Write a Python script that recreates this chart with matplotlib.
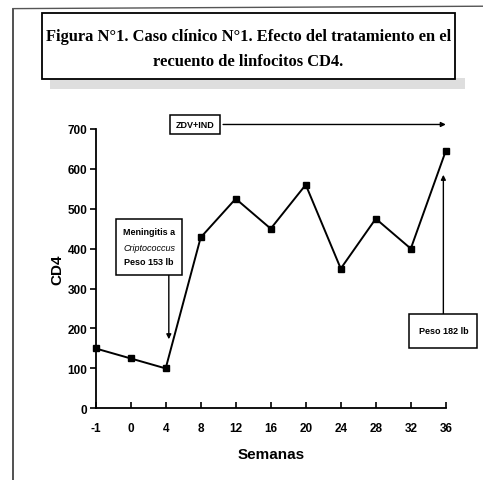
import matplotlib
matplotlib.use("Agg")
import matplotlib.pyplot as plt
from matplotlib.patches import Rectangle
from matplotlib.lines import Line2D

# data
semanas = ["-1", "0", "4", "8", "12", "16", "20", "24", "28", "32", "36"]
cd4 = [150, 125, 100, 428, 525, 450, 560, 350, 475, 400, 645]

titulo = "Figura N\u00b01. Caso cl\u00ednico N\u00b01. Efecto del tratamiento en el\nrecuento de linfocitos CD4."
narrow = ["Liberation Sans Narrow", "Liberation Sans", "DejaVu Sans"]

fig = plt.figure(figsize=(4.83, 4.81), dpi=100)
ax = fig.add_axes([0.198, 0.149, 0.725, 0.581])

x = list(range(len(semanas)))
ax.plot(x, cd4, color="black", lw=1.4, marker="s", ms=4.5, clip_on=False, zorder=3)

ax.set_xlim(0, len(semanas) - 1)
ax.set_ylim(0, 700)
ax.set_xticks(x)
ax.set_xticklabels(semanas)
ax.set_yticks(range(0, 701, 100))
for s in ["top", "right"]:
    ax.spines[s].set_visible(False)
for s in ["left", "bottom"]:
    ax.spines[s].set_linewidth(1.3)
ax.tick_params(axis="y", direction="out", length=4, width=1.2, pad=2)
ax.tick_params(axis="x", direction="in", length=4, width=1.2, pad=10)
for lab in ax.get_xticklabels() + ax.get_yticklabels():
    lab.set_family(narrow)
    lab.set_fontweight("bold")
    lab.set_fontsize(8.5)
ax.set_xlabel("Semanas", family=narrow, fontweight="bold", fontsize=11, labelpad=9)
ax.set_ylabel("CD4", family=narrow, fontweight="bold", fontsize=11, labelpad=2)

# ZDV+IND box and arrow
ax.text(2.84, 711, "ZDV+IND", ha="center", va="center", fontsize=6.5, fontweight="bold",
        family=narrow, clip_on=False,
        bbox=dict(boxstyle="square,pad=0.6", fc="white", ec="black", lw=1.1))
ax.annotate("", xy=(10, 711), xytext=(3.64, 711), annotation_clip=False,
            arrowprops=dict(arrowstyle="-|>", color="black", lw=1.0, mutation_scale=7,
                            shrinkA=0, shrinkB=0))

# Meningitis box
ax.add_patch(Rectangle((0.58, 334), 1.89, 140, fc="white", ec="black", lw=1.1, zorder=4))
ax.text(1.525, 442, "Meningitis a", ha="center", va="center", fontsize=6.5,
        fontweight="bold", family=narrow, zorder=5)
ax.text(1.525, 404, "Criptococcus", ha="center", va="center", fontsize=6.5,
        style="italic", family=narrow, zorder=5)
ax.text(1.525, 369, "Peso 153 lb", ha="center", va="center", fontsize=6.5,
        fontweight="bold", family=narrow, zorder=5)
ax.annotate("", xy=(2.09, 173), xytext=(2.09, 334),
            arrowprops=dict(arrowstyle="-|>", color="black", lw=1.0, mutation_scale=7,
                            shrinkA=0, shrinkB=0))

# Peso 182 lb box
ax.add_patch(Rectangle((8.95, 151), 1.95, 85, fc="white", ec="black", lw=1.1,
                       zorder=4, clip_on=False))
ax.text(9.93, 194, "Peso 182 lb", ha="center", va="center", fontsize=6.5,
        fontweight="bold", family=narrow, clip_on=False, zorder=5)
ax.annotate("", xy=(9.93, 585), xytext=(9.93, 236), annotation_clip=False,
            arrowprops=dict(arrowstyle="-|>", color="black", lw=1.0, mutation_scale=7,
                            shrinkA=0, shrinkB=0))

# title box with a grey shadow
fig.patches.append(Rectangle((0.104, 0.812), 0.859, 0.024, transform=fig.transFigure,
                             fc="#dedede", ec="none", zorder=0))
fig.patches.append(Rectangle((0.087, 0.834), 0.855, 0.137, transform=fig.transFigure,
                             fc="white", ec="black", lw=1.3, zorder=1))
fig.text(0.514, 0.898, titulo, ha="center", va="center", fontsize=11.9,
         fontweight="bold", family="Liberation Serif", linespacing=1.75, zorder=2)

# page frame of the scan
fig.add_artist(Line2D([0.027, 0.027], [0.0, 0.98], transform=fig.transFigure, color="#333333", lw=1.2))
fig.add_artist(Line2D([0.027, 1.0], [0.98, 0.985], transform=fig.transFigure, color="#555555", lw=1.0))

fig.savefig("out.png", dpi=100)
